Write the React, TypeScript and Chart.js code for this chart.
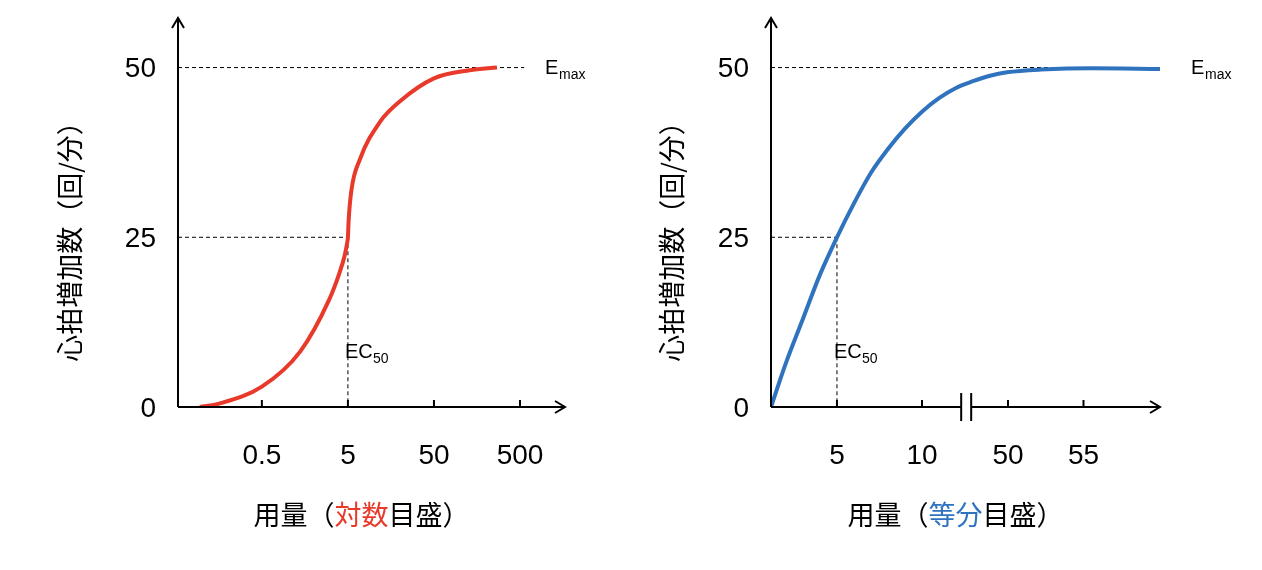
import { useEffect, useRef } from "react"
import Chart from "chart.js/auto"

// left chart: log dose
const logDose = [0.095, 0.16, 0.5, 1.4, 3.0, 4.0, 4.6, 4.9, 5, 5.1, 5.5, 6.9, 11.8, 20, 50, 130, 270]
const logEffect = [0, 0.5, 3, 8.2, 15.7, 19.8, 22.4, 24.2, 25, 27.5, 32, 36.5, 42, 45, 48.4, 49.6, 50]
const logTicks = [0.5, 5, 50, 500]

// right chart: linear dose (axis units, break between 10 and "50")
const linDose = [1.12, 2, 3, 4, 5, 6, 7, 8, 9, 10, 11, 12, 13, 14, 15, 17, 20, 24]
const linEffect = [0, 6.5, 13, 19.5, 25, 30, 34.5, 38, 41, 43.5, 45.5, 47, 48, 48.8, 49.3, 49.7, 49.9, 49.8]
const linTickPos = [5, 10, 15.06, 19.5]
const linTickLabels = ["5", "10", "50", "55"]

const yTicks = [0, 25, 50]
const yTitle = "心拍増加数（回/分）"

const RED = "#e8392b"
const BLUE = "#2f73bf"
const FONT = "'Liberation Sans', Arial, sans-serif"
const CJK = "'Noto Sans CJK JP', sans-serif"

type Cfg = {
  log: boolean
  xs: number[]
  ys: number[]
  color: string
  xMin: number
  xMax: number
  ticks: number[]
  tickLabels: string[]
  emaxEnd: number
  emaxLabelX: number
  titleColored: string
  padLeft: number
  padRight: number
  yTitleX: number
  axisBreak: number | null
}

function DoseChart({ cfg }: { cfg: Cfg }) {
  const ref = useRef<HTMLCanvasElement>(null)
  useEffect(() => {
    if (!ref.current) return
    const guides = {
      id: "guides",
      afterDraw(chart: any) {
        const ctx = chart.ctx
        const xs = chart.scales.x
        const ys = chart.scales.y
        const a = chart.chartArea
        const y0 = ys.getPixelForValue(0)
        ctx.save()
        ctx.strokeStyle = "#000"
        ctx.lineWidth = 2
        // y axis + arrow
        ctx.beginPath()
        ctx.moveTo(a.left, y0)
        ctx.lineTo(a.left, a.top)
        ctx.moveTo(a.left - 6, a.top + 10)
        ctx.lineTo(a.left, a.top)
        ctx.lineTo(a.left + 6, a.top + 10)
        ctx.stroke()
        // x axis + arrow
        ctx.beginPath()
        if (cfg.axisBreak !== null) {
          const bx = xs.getPixelForValue(cfg.axisBreak)
          ctx.moveTo(a.left, y0)
          ctx.lineTo(bx - 5, y0)
          ctx.moveTo(bx + 5, y0)
          ctx.lineTo(a.right, y0)
          ctx.moveTo(bx - 5, y0 - 14)
          ctx.lineTo(bx - 5, y0 + 14)
          ctx.moveTo(bx + 5, y0 - 14)
          ctx.lineTo(bx + 5, y0 + 14)
        } else {
          ctx.moveTo(a.left, y0)
          ctx.lineTo(a.right, y0)
        }
        ctx.moveTo(a.right - 10, y0 - 6)
        ctx.lineTo(a.right, y0)
        ctx.lineTo(a.right - 10, y0 + 6)
        ctx.stroke()
        // x ticks
        ctx.fillStyle = "#000"
        ctx.font = "28px " + FONT
        ctx.textAlign = "center"
        ctx.textBaseline = "middle"
        cfg.ticks.forEach((t, i) => {
          const px = xs.getPixelForValue(t)
          ctx.beginPath()
          ctx.moveTo(px, y0)
          ctx.lineTo(px, y0 - 7)
          ctx.stroke()
          ctx.fillText(cfg.tickLabels[i], px, y0 + 49)
        })
        // y ticks
        ctx.textAlign = "right"
        yTicks.forEach((t) => {
          ctx.fillText(String(t), a.left - 22, ys.getPixelForValue(t) + 2)
        })
        // labels
        ctx.textAlign = "left"
        ctx.font = "20px " + FONT
        const ex = xs.getPixelForValue(5)
        ctx.fillText("EC", ex - 3, y0 - 55)
        ctx.font = "14px " + FONT
        ctx.fillText("50", ex + 25, y0 - 48)
        ctx.font = "20px " + FONT
        ctx.fillText("E", cfg.emaxLabelX, ys.getPixelForValue(50) + 1)
        ctx.font = "14px " + FONT
        ctx.fillText("max", cfg.emaxLabelX + 14, ys.getPixelForValue(50) + 8)
        // x title
        ctx.font = "27px " + CJK
        const parts: [string, string][] = [["用量（", "#000"], [cfg.titleColored, cfg.color], ["目盛）", "#000"]]
        const total = parts.reduce((s, p) => s + ctx.measureText(p[0]).width, 0)
        let cx = (a.left + a.right) / 2 - 10 - total / 2
        parts.forEach(([t, c]) => {
          ctx.fillStyle = c
          ctx.fillText(t, cx, 515)
          cx += ctx.measureText(t).width
        })
        // y title
        ctx.fillStyle = "#000"
        ctx.translate(cfg.yTitleX, 235)
        ctx.rotate(-Math.PI / 2)
        ctx.textAlign = "center"
        ctx.fillText(yTitle, 0, 0)
        ctx.restore()
      },
    }
    const dash = { borderColor: "#000", borderWidth: 1, borderDash: [4, 3], pointRadius: 0, fill: false }
    const chart = new Chart(ref.current, {
      type: "line",
      data: {
        datasets: [
          {
            data: cfg.xs.map((x, i) => ({ x, y: cfg.ys[i] })),
            borderColor: cfg.color,
            borderWidth: 4,
            pointRadius: 0,
            cubicInterpolationMode: "monotone",
          },
          { ...dash, data: [{ x: cfg.xMin, y: 50 }, { x: cfg.emaxEnd, y: 50 }] },
          { ...dash, data: [{ x: cfg.xMin, y: 25 }, { x: 5, y: 25 }] },
          { ...dash, data: [{ x: 5, y: 25 }, { x: 5, y: 0 }] },
        ] as any,
      },
      options: {
        animation: false,
        responsive: false,
        layout: { padding: { left: cfg.padLeft, right: cfg.padRight, top: 18, bottom: 163 } },
        plugins: { legend: { display: false }, tooltip: { enabled: false } },
        scales: {
          x: { type: cfg.log ? "logarithmic" : "linear", min: cfg.xMin, max: cfg.xMax, display: false },
          y: { type: "linear", min: 0, max: 57.3, display: false },
        },
      },
      plugins: [guides],
    })
    return () => chart.destroy()
  }, [cfg])
  return <canvas ref={ref} width={631} height={570} style={{ display: "block" }} />
}

const leftCfg: Cfg = {
  log: true, xs: logDose, ys: logEffect, color: RED, xMin: 0.053, xMax: 1667,
  ticks: logTicks, tickLabels: logTicks.map(String), emaxEnd: 560, emaxLabelX: 545,
  titleColored: "対数", padLeft: 178, padRight: 66, yTitleX: 70, axisBreak: null,
}
const rightCfg: Cfg = {
  log: false, xs: linDose, ys: linEffect, color: BLUE, xMin: 1.12, xMax: 24,
  ticks: linTickPos, tickLabels: linTickLabels, emaxEnd: 21.5, emaxLabelX: 560,
  titleColored: "等分", padLeft: 140, padRight: 102, yTitleX: 41, axisBreak: 12.6,
}

export default function App() {
  return (
    <div style={{ position: "fixed", left: 0, top: 0, width: 1262, height: 570, background: "#fff", display: "flex" }}>
      <DoseChart cfg={leftCfg} />
      <DoseChart cfg={rightCfg} />
    </div>
  )
}
